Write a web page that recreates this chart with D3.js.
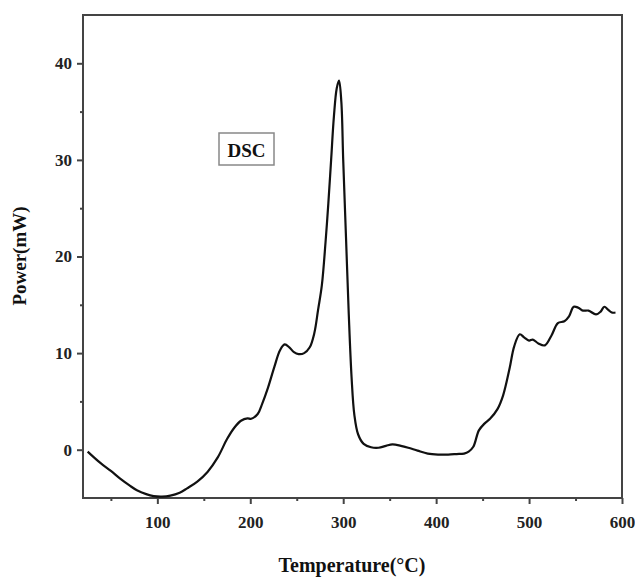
<!DOCTYPE html>
<html>
<head>
<meta charset="utf-8">
<script src="https://d3js.org/d3.v7.min.js"></script>
<style>
  body { margin: 0; background: #fff; }
  text { font-family: "Liberation Serif", "DejaVu Serif", serif; font-weight: bold; }
</style>
</head>
<body>
<div id="chart"></div>
<script>
// DSC curve
var temps = [25, 39, 50, 60, 70, 78, 88, 96, 105, 114, 124, 132, 143, 154, 165, 175, 183, 190, 197, 201, 208, 213, 219, 226, 232, 237, 242, 247, 252, 258, 264, 269, 273, 277, 281, 284, 287, 290, 293, 295.5, 298, 300, 303, 306, 309, 312, 316, 322, 330, 338, 346, 353, 362, 370, 380, 391, 402, 413, 422, 430, 435, 440, 446, 452, 458, 466, 472, 479, 484, 490, 495, 500, 504, 510, 517, 524, 531, 538, 543, 548, 553, 558, 564, 572, 577, 581, 585, 589, 593]
var power = [-0.2, -1.4, -2.2, -3.0, -3.7, -4.2, -4.6, -4.8, -4.85, -4.75, -4.45, -4.0, -3.3, -2.3, -0.8, 1.1, 2.3, 3.0, 3.25, 3.2, 3.7, 4.8, 6.4, 8.6, 10.3, 10.9, 10.6, 10.1, 9.9, 10.0, 10.6, 12.1, 14.5, 17.0, 21.5, 25.5, 30.0, 34.5, 37.4, 38.2, 36.0, 30.0, 22.0, 14.0, 7.5, 3.6, 1.6, 0.6, 0.25, 0.2, 0.4, 0.55, 0.4, 0.2, -0.1, -0.4, -0.5, -0.5, -0.45, -0.4, -0.2, 0.3, 2.0, 2.7, 3.2, 4.2, 5.6, 8.4, 10.7, 11.95, 11.6, 11.3, 11.4, 11.0, 10.8, 11.8, 13.1, 13.3, 13.8, 14.8, 14.7, 14.4, 14.4, 14.0, 14.3, 14.8, 14.5, 14.2, 14.2]
var xTicks = [100, 200, 300, 400, 500, 600]
var xMinor = [50, 150, 250, 350, 450, 550]
var yTicks = [0, 10, 20, 30, 40]
var yMinor = [5, 15, 25, 35]

var W = 635, H = 577
var margin = {top: 15, right: 13, bottom: 79, left: 83}
var width = W - margin.left - margin.right
var height = H - margin.top - margin.bottom

var svg = d3.select("#chart").append("svg")
    .attr("width", W)
    .attr("height", H)
var g = svg.append("g")
    .attr("transform", "translate(" + margin.left + "," + margin.top + ")")

var xScale = d3.scaleLinear().domain([20, 600]).range([0, width])
var yScale = d3.scaleLinear().domain([-5, 45]).range([height, 0])

var axisColor = "#444"

// frame
g.append("rect")
    .attr("width", width).attr("height", height)
    .attr("fill", "none").attr("stroke", axisColor).attr("stroke-width", 2)

var xAxis = g.append("g")
    .attr("transform", "translate(0," + height + ")")
    .call(d3.axisBottom(xScale).tickValues(xTicks).tickSize(6).tickPadding(12))
var xAxisMinor = g.append("g")
    .attr("transform", "translate(0," + height + ")")
    .call(d3.axisBottom(xScale).tickValues(xMinor).tickSize(3).tickFormat(""))
var yAxis = g.append("g")
    .call(d3.axisLeft(yScale).tickValues(yTicks).tickSize(6).tickPadding(5))
var yAxisMinor = g.append("g")
    .call(d3.axisLeft(yScale).tickValues(yMinor).tickSize(3).tickFormat(""))

;[xAxis, xAxisMinor, yAxis, yAxisMinor].forEach(function(a) {
    a.select(".domain").remove()
    a.selectAll("line").attr("stroke", axisColor).attr("stroke-width", 2)
    a.selectAll("text").attr("font-size", 17).attr("fill", "#222")
        .style("font-family", "'Liberation Serif', serif").style("font-weight", "bold")
})

// curve
var data = temps.map(function(t, i) { return [t, power[i]] })
g.append("path")
    .datum(data)
    .attr("fill", "none")
    .attr("stroke", "#111")
    .attr("stroke-width", 2.2)
    .attr("stroke-linejoin", "round")
    .attr("d", d3.line()
        .x(function(d) { return xScale(d[0]) })
        .y(function(d) { return yScale(d[1]) })
        .curve(d3.curveCatmullRom))

// legend box
var legend = svg.append("g").attr("transform", "translate(219,133)")
legend.append("rect")
    .attr("width", 55).attr("height", 32)
    .attr("fill", "#fff").attr("stroke", "#888").attr("stroke-width", 1.5)
legend.append("text")
    .attr("x", 27.5).attr("y", 24)
    .attr("text-anchor", "middle")
    .attr("font-size", 19).attr("fill", "#111")
    .text("DSC")

// axis titles
svg.append("text")
    .attr("x", 352).attr("y", 572)
    .attr("text-anchor", "middle")
    .attr("font-size", 20).attr("fill", "#111")
    .text("Temperature(°C)")

svg.append("text")
    .attr("transform", "translate(26,256) rotate(-90)")
    .attr("text-anchor", "middle")
    .attr("font-size", 19).attr("fill", "#111")
    .text("Power(mW)")
</script>
</body>
</html>
